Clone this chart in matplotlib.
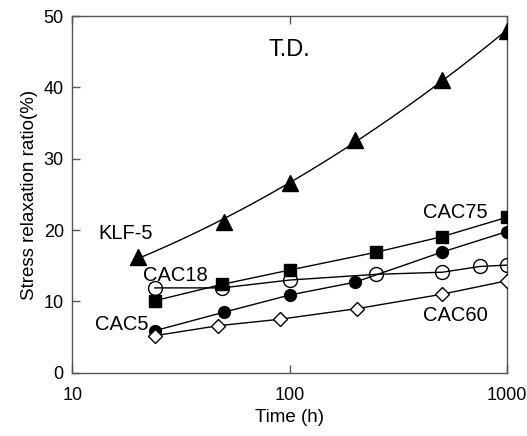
import numpy as np
import matplotlib.pyplot as plt

plt.rcParams['font.family'] = ['Liberation Sans', 'DejaVu Sans']

# data
klf_t = [20, 50, 100, 200, 500, 1000]
klf_v = [16.2, 21.2, 26.6, 32.6, 41.0, 47.9]

cac75_t = [24, 49, 100, 250, 505, 1000]
cac75_v = [10.1, 12.4, 14.4, 16.9, 19.1, 21.8]

cac5_t = [24, 50, 100, 200, 500, 1000]
cac5_v = [5.9, 8.5, 10.9, 12.7, 16.9, 19.8]

cac18_t = [24, 49, 100, 250, 505, 750, 1000]
cac18_v = [11.9, 11.9, 13.0, 13.8, 14.1, 14.9, 15.1]

cac60_t = [24, 47, 90, 205, 500, 1000]
cac60_v = [5.2, 6.6, 7.5, 9.0, 11.0, 12.9]

fig = plt.figure(figsize=(5.27, 4.36), dpi=100)
ax = fig.add_axes([0.137, 0.145, 0.825, 0.818])

# smooth trend through KLF-5 points
c = np.polyfit(np.log10(klf_t), klf_v, 2)
tt = np.logspace(np.log10(klf_t[0]), np.log10(klf_t[-1]), 200)
ax.plot(tt, np.polyval(c, np.log10(tt)), color='k', lw=1, zorder=2)
ax.plot(klf_t, klf_v, ls='none', marker='^', ms=11, color='k', zorder=3)

ax.plot(cac75_t, cac75_v, '-s', color='k', lw=1, ms=8, zorder=3)
ax.plot(cac5_t, cac5_v, '-o', color='k', lw=1, ms=8.5, zorder=3)
ax.plot(cac18_t, cac18_v, '-o', color='k', mfc='none', mec='k', mew=1,
        lw=1, ms=10, zorder=4)
ax.plot(cac60_t, cac60_v, '-D', color='k', mfc='white', mec='k', mew=1,
        lw=1, ms=7, zorder=3)

ax.set_xscale('log')
ax.set_xlim(10, 1000)
ax.set_ylim(0, 50)
ax.set_xticks([10, 100, 1000])
ax.set_xticklabels(['10', '100', '1000'])
ax.xaxis.set_minor_locator(plt.NullLocator())
ax.set_yticks([0, 10, 20, 30, 40, 50])

ax.tick_params(axis='x', direction='in', top=True, length=6, width=1,
               color='#555555', labelsize=13, pad=10)
ax.tick_params(axis='y', direction='in', length=6, width=1,
               color='#555555', labelsize=13, pad=6)
for s in ax.spines.values():
    s.set_color('#555555')
    s.set_linewidth(1)

ax.set_xlabel('Time (h)', fontsize=13.5, labelpad=4)
ax.set_ylabel('Stress relaxation ratio(%)', fontsize=13.5, labelpad=4)

ax.text(0.5, 0.905, 'T.D.', transform=ax.transAxes, fontsize=17,
        ha='center', va='center')
ax.text(0.06, 0.39, 'KLF-5', transform=ax.transAxes, fontsize=14.5,
        ha='left', va='center')
ax.text(0.162, 0.274, 'CAC18', transform=ax.transAxes, fontsize=14.5,
        ha='left', va='center')
ax.text(0.052, 0.135, 'CAC5', transform=ax.transAxes, fontsize=14.5,
        ha='left', va='center')
ax.text(0.807, 0.45, 'CAC75', transform=ax.transAxes, fontsize=14.5,
        ha='left', va='center')
ax.text(0.807, 0.16, 'CAC60', transform=ax.transAxes, fontsize=14.5,
        ha='left', va='center')

fig.savefig('out.png', dpi=100)
